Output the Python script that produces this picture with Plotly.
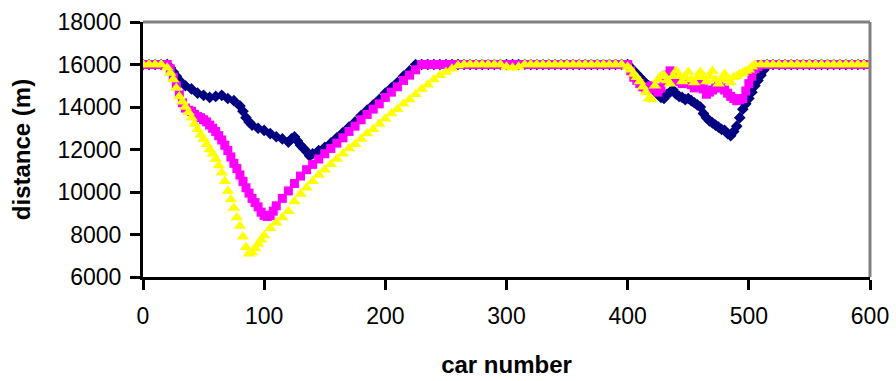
import plotly.graph_objects as go

# ---------------- data ----------------
# navy diamonds
cars_a = [
    0, 5, 10, 15, 20, 22.5, 25, 27.5, 30, 35, 40, 45, 50, 55, 60, 65, 70, 75,
    80, 82.5, 85, 87.5, 90, 95, 100, 105, 110, 115, 120, 122.5, 125, 127.5,
    130, 132.5, 135, 137.5, 140, 145, 150, 155, 160, 165, 170, 175, 180, 185,
    190, 195, 200, 205, 210, 215, 220, 225,
    230, 235, 240, 245, 250, 255, 260, 265, 270, 275, 280, 285, 290, 295,
    300, 305, 310, 315, 320, 325, 330, 335, 340, 345, 350, 355, 360, 365,
    370, 375, 380, 385, 390, 395,
    400, 402.5, 405, 407.5, 410, 412.5, 415, 417.5, 420, 422.5, 425, 427.5,
    430, 432.5, 435, 437.5, 440, 442.5, 445, 447.5, 450, 452.5, 455, 457.5,
    460, 462.5, 465, 467.5, 470, 472.5, 475, 477.5, 480, 482.5, 485, 487.5,
    490, 492.5, 495, 497.5, 500, 502.5, 505, 507.5, 510, 512.5, 515,
    520, 525, 530, 535, 540, 545, 550, 555, 560, 565, 570, 575, 580, 585,
    590, 595, 600,
]
dist_a = [
    16000, 16000, 16000, 16000, 16000, 15850, 15650, 15450, 15250, 15000, 14850, 14650, 14550, 14450, 14500, 14550, 14400, 14300,
    14050, 13800, 13500, 13300, 13150, 13000, 12900, 12750, 12600, 12500, 12350, 12500, 12600, 12400,
    12200, 12050, 11900, 11700, 11800, 11950, 12100, 12300, 12550, 12800, 13050, 13300, 13600, 13850,
    14100, 14350, 14650, 14900, 15150, 15450, 15700, 16000,
    16000, 16000, 16000, 16000, 16000, 16000, 16000, 16000, 16000, 16000, 16000, 16000, 16000, 16000,
    16000, 16000, 16000, 16000, 16000, 16000, 16000, 16000, 16000, 16000, 16000, 16000, 16000, 16000,
    16000, 16000, 16000, 16000, 16000, 16000,
    16000, 15850, 15700, 15550, 15400, 15250, 15100, 15000, 14900, 14750, 14600, 14450,
    14400, 14600, 14700, 14800, 14600, 14500, 14450, 14350, 14400, 14300, 14200, 14100,
    14000, 13700, 13500, 13350, 13250, 13150, 13050, 12950, 12900, 12750, 12650, 12850,
    13100, 13500, 13900, 14150, 14400, 14700, 15000, 15250, 15500, 15750, 16000,
    16000, 16000, 16000, 16000, 16000, 16000, 16000, 16000, 16000, 16000, 16000, 16000, 16000, 16000,
    16000, 16000, 16000,
]

# magenta squares
cars_b = [
    0, 5, 10, 15, 20, 22.5, 25, 27.5, 30, 32.5, 35, 37.5, 40, 42.5, 45, 47.5,
    50, 52.5, 55, 57.5, 60, 62.5, 65, 67.5, 70, 72.5, 75, 77.5, 80, 82.5, 85,
    87.5, 90, 92.5, 95, 97.5, 100, 102.5, 105, 107.5, 110, 115, 120, 125, 130,
    135, 140, 145, 150, 155, 160, 165, 170, 175, 180, 185, 190, 195, 200, 205,
    210, 215, 220, 225, 230,
    235, 240, 245, 250, 255, 260, 265, 270, 275, 280, 285, 290, 295, 300,
    305, 310, 315, 320, 325, 330, 335, 340, 345, 350, 355, 360, 365, 370,
    375, 380, 385, 390, 395,
    400, 402.5, 405, 407.5, 410, 412.5, 415, 417.5, 420, 422.5, 425, 427.5,
    430, 432.5, 435, 437.5, 440, 442.5, 445, 447.5, 450, 452.5, 455, 457.5,
    460, 462.5, 465, 467.5, 470, 472.5, 475, 477.5, 480, 482.5, 485, 487.5,
    490, 492.5, 495, 497.5, 500, 502.5, 505, 507.5, 510,
    515, 520, 525, 530, 535, 540, 545, 550, 555, 560, 565, 570, 575, 580,
    585, 590, 595, 600,
]
dist_b = [
    16000, 16000, 16000, 16000, 16000, 15800, 15400, 15000, 14600, 14200, 13950, 13850, 13800, 13650, 13550, 13500,
    13400, 13300, 13150, 13000, 12850, 12650, 12450, 12200, 11950, 11650, 11350, 11100, 10800, 10500, 10200,
    9950, 9700, 9500, 9300, 9050, 8900, 8850, 8900, 9100, 9350, 9700, 10050, 10400, 10750,
    11050, 11300, 11550, 11800, 12050, 12300, 12550, 12850, 13100, 13400, 13650, 13900, 14150, 14450, 14700,
    14950, 15250, 15500, 15750, 16000,
    16000, 16000, 16000, 16000, 16000, 16000, 16000, 16000, 16000, 16000, 16000, 16000, 16000, 16000,
    16000, 16000, 16000, 16000, 16000, 16000, 16000, 16000, 16000, 16000, 16000, 16000, 16000, 16000,
    16000, 16000, 16000, 16000, 16000,
    16000, 15700, 15400, 15250, 15100, 14950, 14800, 14900, 15000, 14850, 14700, 14900,
    15300, 15500, 15700, 15500, 15300, 15200, 15100, 15150, 15200, 15050, 14900, 15000,
    15100, 14850, 14600, 14700, 14800, 14900, 15000, 14900, 14800, 14650, 14500, 14400,
    14300, 14350, 14400, 14750, 15100, 15450, 15800, 15900, 16000,
    16000, 16000, 16000, 16000, 16000, 16000, 16000, 16000, 16000, 16000, 16000, 16000, 16000, 16000,
    16000, 16000, 16000, 16000,
]

# yellow triangles
cars_c = [
    0, 5, 10, 15, 20, 22.5, 25, 27.5, 30, 32.5, 35, 37.5, 40, 42.5, 45, 47.5,
    50, 52.5, 55, 57.5, 60, 62.5, 65, 67.5, 70, 72.5, 75, 77.5, 80, 82.5, 85,
    87.5, 90, 92.5, 95, 97.5, 100, 105, 110, 115, 120, 125, 130, 135, 140, 145,
    150, 155, 160, 165, 170, 175, 180, 185, 190, 195, 200, 205, 210, 215, 220,
    225, 230, 235, 240, 245, 250, 255, 260, 265,
    270, 275, 280, 285, 290, 295, 300, 305, 310, 315, 320, 325, 330, 335,
    340, 345, 350, 355, 360, 365, 370, 375, 380, 385, 390, 395,
    400, 402.5, 405, 407.5, 410, 412.5, 415, 417.5, 420, 422.5, 425, 427.5,
    430, 432.5, 435, 437.5, 440, 442.5, 445, 447.5, 450, 452.5, 455, 457.5,
    460, 462.5, 465, 467.5, 470, 472.5, 475, 477.5, 480, 482.5, 485, 487.5,
    490, 492.5, 495, 497.5, 500, 502.5, 505,
    510, 515, 520, 525, 530, 535, 540, 545, 550, 555, 560, 565, 570, 575,
    580, 585, 590, 595, 600,
]
dist_c = [
    16000, 16000, 16000, 16000, 15850, 15600, 15300, 14900, 14500, 14250, 14000, 13750, 13500, 13200, 12950, 12700,
    12500, 12250, 12000, 11800, 11550, 11250, 10900, 10500, 10050, 9650, 9250, 8800, 8400, 7900, 7400,
    7100, 7150, 7350, 7550, 7750, 7950, 8300, 8550, 8800, 9100, 9550, 9900, 10200, 10500, 10800,
    11050, 11300, 11550, 11800, 12050, 12250, 12500, 12750, 12950, 13200, 13450, 13700, 13900, 14150, 14350,
    14600, 14850, 15050, 15300, 15500, 15650, 15800, 15950, 16000,
    16000, 16000, 16000, 16000, 16000, 16000, 15900, 15850, 15900, 16000, 16000, 16000, 16000, 16000,
    16000, 16000, 16000, 16000, 16000, 16000, 16000, 16000, 16000, 16000, 16000, 16000,
    15900, 15750, 15550, 15400, 15200, 14950, 14700, 14400, 14350, 15000, 15300, 15450,
    15500, 15250, 15100, 15450, 15700, 15450, 15200, 15400, 15650, 15300, 15150, 15400,
    15650, 15400, 15200, 15450, 15700, 15300, 15100, 15300, 15550, 15300, 15150, 15400,
    15450, 15550, 15600, 15700, 15750, 15900, 16000,
    16000, 16000, 16000, 16000, 16000, 16000, 16000, 16000, 16000, 16000, 16000, 16000, 16000, 16000,
    16000, 16000, 16000, 16000, 16000,
]

x_ticks = [0, 100, 200, 300, 400, 500, 600]
y_ticks = [6000, 8000, 10000, 12000, 14000, 16000, 18000]

assert len(cars_a) == len(dist_a)
assert len(cars_b) == len(dist_b)
assert len(cars_c) == len(dist_c)

FONT = "Liberation Sans, Arial, sans-serif"

fig = go.Figure()
fig.add_trace(go.Scatter(x=cars_a, y=dist_a, mode="markers",
                         marker=dict(symbol="diamond", size=9, color="#000080", line=dict(width=0)),
                         showlegend=False))
fig.add_trace(go.Scatter(x=cars_b, y=dist_b, mode="markers",
                         marker=dict(symbol="square", size=9, color="#FF00FF", line=dict(width=0)),
                         showlegend=False))
fig.add_trace(go.Scatter(x=cars_c, y=dist_c, mode="markers",
                         marker=dict(symbol="triangle-up", size=11, color="#FFFF00", line=dict(width=0)),
                         showlegend=False))

fig.update_layout(
    width=896, height=381,
    margin=dict(l=143, r=26, t=22, b=104),
    paper_bgcolor="white", plot_bgcolor="white",
    font=dict(family=FONT, size=23, color="black"),
    xaxis=dict(range=[0, 600], tickvals=x_ticks, ticktext=[str(v) for v in x_ticks],
               showgrid=False, zeroline=False, showline=True, linecolor="black", linewidth=3,
               ticks="outside", ticklen=10, tickwidth=3, tickcolor="black",
               ticklabelstandoff=6, automargin=False,
               title=dict(text="<b>car number</b>", font=dict(size=24), standoff=29)),
    yaxis=dict(range=[6000, 18000], tickvals=y_ticks, ticktext=[str(v) for v in y_ticks],
               showgrid=False, zeroline=False, showline=True, linecolor="black", linewidth=3,
               ticks="outside", ticklen=10, tickwidth=3, tickcolor="black",
               ticklabelstandoff=4, automargin=False,
               title=dict(text="<b>distance (m)</b>", font=dict(size=24), standoff=21)),
    shapes=[
        dict(type="line", xref="paper", yref="paper", x0=0, x1=1, y0=1, y1=1,
             line=dict(color="#808080", width=3), layer="above"),
        dict(type="line", xref="paper", yref="paper", x0=1, x1=1, y0=0, y1=1,
             line=dict(color="#808080", width=3), layer="above"),
    ],
)

fig.write_html("out.html")
